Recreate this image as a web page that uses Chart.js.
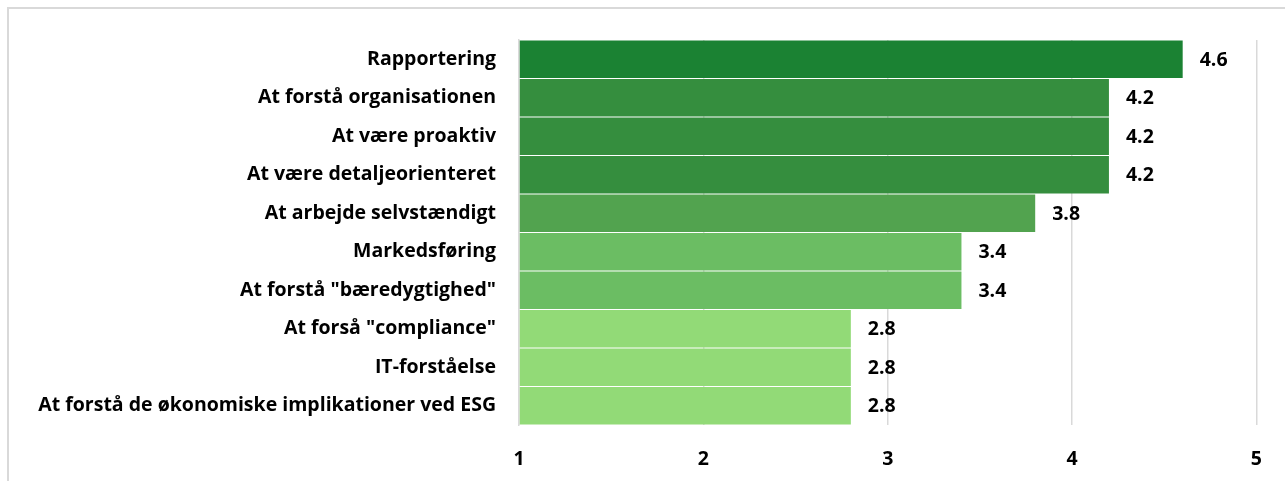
<!DOCTYPE html>
<html>
<head>
<meta charset="utf-8">
<script src="https://cdn.jsdelivr.net/npm/chart.js@4"></script>
<style>
  html, body { margin: 0; padding: 0; background: #fff; overflow: hidden; }
  #wrap { position: absolute; left: 0; top: 0; width: 1285px; height: 481px; }
  #frame { position: absolute; left: 7px; top: 7px; width: 1300px; height: 500px; border: 2px solid #d9d9d9; box-sizing: border-box; }
  canvas { position: absolute; left: 0; top: 0; }
</style>
</head>
<body>
<div id="wrap">
  <div id="frame"></div>
  <canvas id="c" width="1285" height="481"></canvas>
</div>
<script>
const categories = [
  'Rapportering',
  'At forstå organisationen',
  'At være proaktiv',
  'At være detaljeorienteret',
  'At arbejde selvstændigt',
  'Markedsføring',
  'At forstå "bæredygtighed"',
  'At forså "compliance"',
  'IT-forståelse',
  'At forstå de økonomiske implikationer ved ESG'
];
const values = [4.6, 4.2, 4.2, 4.2, 3.8, 3.4, 3.4, 2.8, 2.8, 2.8];
const barColors = ['#1b8233', '#358e3e', '#358e3e', '#358e3e', '#52a34f', '#6bbd63', '#6bbd63', '#92da77', '#92da77', '#92da77'];
const xTicks = [1, 2, 3, 4, 5];

const FONT = "'Open Sans', sans-serif";

const valueLabels = {
  id: 'valueLabels',
  afterDatasetsDraw(chart) {
    const ctx = chart.ctx;
    const meta = chart.getDatasetMeta(0);
    ctx.save();
    ctx.font = "bold 19.5px " + FONT;
    ctx.fillStyle = '#000';
    ctx.textAlign = 'left';
    ctx.textBaseline = 'middle';
    meta.data.forEach((bar, i) => {
      ctx.fillText(values[i].toFixed(1), bar.x + 17, bar.y + 1);
    });
    ctx.restore();
  }
};

new Chart(document.getElementById('c'), {
  type: 'bar',
  data: {
    labels: categories,
    datasets: [{
      data: values,
      backgroundColor: barColors,
      borderWidth: 0,
      barPercentage: 0.97,
      categoryPercentage: 1.0,
      base: 1
    }]
  },
  options: {
    indexAxis: 'y',
    responsive: false,
    animation: false,
    layout: { padding: { left: 0, right: 28, top: 40, bottom: 0 } },
    plugins: { legend: { display: false }, tooltip: { enabled: false } },
    scales: {
      x: {
        min: 1, max: 5,
        afterBuildTicks(scale) { scale.ticks = xTicks.map(v => ({ value: v })); },
        afterFit(scale) { scale.height = 481 - 425; },
        grid: { color: '#d9d9d9', lineWidth: 1.5, drawTicks: false },
        border: { display: false },
        ticks: { color: '#000', font: { family: FONT, size: 19.5, weight: 'bold' }, padding: 23 }
      },
      y: {
        afterFit(scale) { scale.width = 519; },
        grid: { display: false, drawTicks: false },
        border: { display: true, color: '#d9d9d9', width: 1.5 },
        ticks: { color: '#000', font: { family: FONT, size: 19.5, weight: 'bold' }, padding: 23, autoSkip: false }
      }
    }
  },
  plugins: [valueLabels]
});
</script>
</body>
</html>
